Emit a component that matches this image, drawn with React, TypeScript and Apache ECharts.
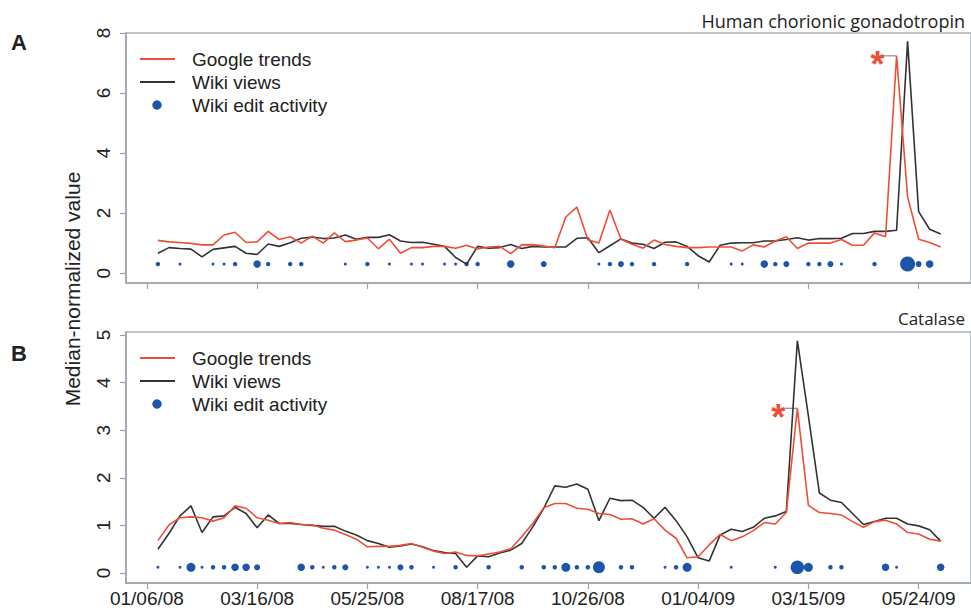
import React, { useEffect, useRef } from 'react';
import * as echarts from 'echarts';

// x axis: weeks since 01/06/08
const tickWeeks = [0, 10, 20, 30, 40, 50, 60, 70];
const tickLabels = ['01/06/08', '03/16/08', '05/25/08', '08/17/08', '10/26/08', '01/04/09', '03/15/09', '05/24/09'];
const weeks = Array.from({ length: 72 }, (_, i) => i + 1);

// Panel A: Human chorionic gonadotropin
const googleA = [
  1.09, 1.04, 1.02, 0.99, 0.94, 0.94, 1.27, 1.36, 1.02, 1.04,
  1.39, 1.12, 1.21, 1.00, 1.23, 1.00, 1.34, 1.05, 1.10, 1.17,
  0.81, 1.13, 0.66, 0.85, 0.85, 0.89, 0.89, 0.83, 0.93, 0.80,
  0.87, 0.89, 0.65, 0.94, 0.95, 0.90, 0.85, 1.87, 2.20, 1.11,
  1.00, 2.10, 1.13, 0.96, 0.83, 1.10, 0.95, 0.89, 0.85, 0.85,
  0.87, 0.87, 0.87, 0.74, 0.94, 0.87, 1.07, 1.21, 0.82, 1.00,
  1.00, 1.00, 1.12, 0.93, 0.93, 1.34, 1.21, 7.24, 2.54, 1.13,
  1.02, 0.87,
];
const wikiA = [
  0.66, 0.85, 0.82, 0.80, 0.54, 0.79, 0.84, 0.89, 0.66, 0.62,
  0.97, 0.89, 1.01, 1.16, 1.20, 1.15, 1.17, 1.27, 1.13, 1.19,
  1.19, 1.28, 1.07, 1.02, 1.03, 0.96, 0.89, 0.52, 0.30, 0.89,
  0.83, 0.85, 0.95, 0.82, 0.89, 0.87, 0.87, 0.87, 1.16, 1.18,
  0.68, 0.91, 1.14, 1.00, 0.96, 0.82, 1.03, 1.04, 0.89, 0.58,
  0.37, 0.93, 1.00, 1.01, 1.01, 1.07, 1.07, 1.12, 1.18, 1.10,
  1.15, 1.15, 1.16, 1.32, 1.32, 1.39, 1.39, 1.43, 7.72, 2.05,
  1.46, 1.30,
];
const editWeeksA = [1, 3, 6, 7, 8, 10, 11, 13, 14, 18, 20, 22, 24, 25, 27, 28, 29, 30, 33, 36, 41, 42, 43, 44, 46, 49, 53, 54, 56, 57, 58, 60, 61, 62, 63, 66, 69, 70, 71];
const editLevelsA = [2, 1, 1, 1, 2, 4, 2, 2, 2, 1, 2, 1, 1, 1, 1, 1, 2, 2, 4, 3, 1, 2, 3, 2, 2, 2, 1, 1, 4, 2, 3, 2, 2, 3, 1, 2, 9, 3, 4];

// Panel B: Catalase
const googleB = [
  0.68, 1.01, 1.16, 1.18, 1.16, 1.09, 1.16, 1.41, 1.36, 1.16,
  1.11, 1.04, 1.06, 1.02, 1.01, 0.94, 0.90, 0.81, 0.71, 0.55,
  0.56, 0.56, 0.58, 0.62, 0.54, 0.46, 0.41, 0.44, 0.37, 0.36,
  0.40, 0.44, 0.51, 0.76, 1.04, 1.37, 1.46, 1.46, 1.36, 1.34,
  1.25, 1.23, 1.13, 1.14, 1.03, 1.14, 0.90, 0.73, 0.32, 0.34,
  0.59, 0.81, 0.68, 0.76, 0.89, 1.06, 1.03, 1.27, 3.46, 1.42,
  1.27, 1.25, 1.22, 1.08, 0.96, 1.08, 1.11, 1.03, 0.85, 0.82,
  0.71, 0.67,
];
const wikiB = [
  0.50, 0.83, 1.20, 1.41, 0.85, 1.18, 1.20, 1.38, 1.25, 0.95,
  1.22, 1.04, 1.04, 1.02, 1.00, 0.98, 0.98, 0.88, 0.80, 0.68,
  0.62, 0.54, 0.57, 0.61, 0.55, 0.47, 0.43, 0.41, 0.12, 0.36,
  0.34, 0.42, 0.48, 0.62, 0.97, 1.36, 1.83, 1.80, 1.87, 1.76,
  1.10, 1.57, 1.52, 1.53, 1.38, 1.15, 1.38, 1.10, 0.76, 0.32,
  0.25, 0.80, 0.92, 0.87, 0.96, 1.15, 1.20, 1.29, 4.88, 3.30,
  1.68, 1.53, 1.48, 1.25, 1.02, 1.08, 1.15, 1.15, 1.03, 0.99,
  0.91, 0.67,
];
const editWeeksB = [1, 3, 4, 5, 6, 7, 8, 9, 10, 14, 15, 16, 17, 18, 20, 21, 22, 23, 24, 26, 28, 31, 34, 36, 37, 38, 39, 40, 41, 43, 44, 47, 48, 49, 53, 57, 59, 60, 62, 63, 67, 68, 72];
const editLevelsB = [1, 1, 5, 1, 2, 2, 4, 4, 3, 4, 2, 1, 2, 3, 1, 1, 1, 3, 2, 1, 2, 2, 2, 2, 2, 5, 2, 2, 7, 2, 2, 1, 2, 5, 1, 1, 8, 5, 2, 2, 4, 1, 4];

const yTicksA = [0, 2, 4, 6, 8];
const yTicksB = [0, 1, 2, 3, 4, 5];
const DOT_Y_A = 0.3;
const DOT_Y_B = 0.12;

const RED = '#ee4e35';
const DARK = '#333333';
const BLUE = '#1d56a8';
const AXIS = '#9aa2ad';
const TEXT = '#222222';
const FONT = '"Liberation Sans", Arial, sans-serif';
const TITLE_FONT = '"Open Sans", "Noto Sans", sans-serif';

export default function App() {
  const ref = useRef<HTMLDivElement>(null);
  useEffect(() => {
    const chart = echarts.init(ref.current!, null, { renderer: 'svg' });
    const xMin = -1.894;
    const xMax = 74.75;
    const pair = (vals: number[]) => vals.map((v, i) => [weeks[i], v]);
    const dots = (w: number[], lv: number[], y: number) => w.map((wk, i) => [wk, y, lv[i]]);
    const mkX = (gi: number, labels: boolean) => ({
      type: 'value', gridIndex: gi, min: xMin, max: xMax,
      axisLine: { show: true, onZero: false, lineStyle: { color: AXIS, width: 1.5 } },
      axisTick: { show: true, customValues: tickWeeks, length: 6, lineStyle: { color: AXIS, width: 1.2 } },
      axisLabel: {
        show: labels, customValues: tickWeeks, fontSize: 19, color: TEXT, margin: 6, fontFamily: FONT,
        formatter: (v: number) => { const k = tickWeeks.indexOf(Math.round(v)); return k >= 0 ? tickLabels[k] : ''; },
      },
      splitLine: { show: false },
    });
    const mkY = (gi: number, min: number, max: number, ticks: number[]) => ({
      type: 'value', gridIndex: gi, min, max,
      axisLine: { show: true, onZero: false, lineStyle: { color: AXIS, width: 1.5 } },
      axisTick: { show: true, customValues: ticks, length: 6, lineStyle: { color: AXIS, width: 1.2 } },
      axisLabel: { show: false },
      splitLine: { show: false },
    });
    const lineS = (name: string, data: number[], gi: number, color: string) => ({
      type: 'line', name, xAxisIndex: gi, yAxisIndex: gi, data: pair(data), symbol: 'none',
      lineStyle: { color, width: 1.6 }, itemStyle: { color },
    });
    const dotS = (w: number[], lv: number[], y: number, gi: number) => ({
      type: 'scatter', name: 'Wiki edit activity', xAxisIndex: gi, yAxisIndex: gi, data: dots(w, lv, y),
      symbolSize: (val: number[]) => 1.5 + 1.5 * val[2], itemStyle: { color: BLUE, opacity: 1 },
    });
    chart.setOption({
      animation: false,
      backgroundColor: '#ffffff',
      grid: [
        { left: 126, top: 33, width: 850, height: 250, show: true, borderColor: '#a9b1bb', borderWidth: 1.5, backgroundColor: 'transparent' },
        { left: 126, top: 332, width: 850, height: 251, show: true, borderColor: '#a9b1bb', borderWidth: 1.5, backgroundColor: 'transparent' },
      ],
      xAxis: [mkX(0, false), mkX(1, true)],
      yAxis: [mkY(0, -0.33, 8, yTicksA), mkY(1, -0.21, 5.063, yTicksB)],
      series: [
        lineS('Wiki views', wikiA, 0, DARK),
        lineS('Google trends', googleA, 0, RED),
        dotS(editWeeksA, editLevelsA, DOT_Y_A, 0),
        lineS('Wiki views', wikiB, 1, DARK),
        lineS('Google trends', googleB, 1, RED),
        dotS(editWeeksB, editLevelsB, DOT_Y_B, 1),
      ],
    });

    const ia = googleA.indexOf(Math.max(...googleA));
    const ib = googleB.indexOf(Math.max(...googleB));
    const pA = chart.convertToPixel({ gridIndex: 0 }, [weeks[ia], googleA[ia]]) as number[];
    const pB = chart.convertToPixel({ gridIndex: 1 }, [weeks[ib], googleB[ib]]) as number[];

    const txt = (text: string, x: number, y: number, size: number, opts: any = {}) => ({
      type: 'text', x, y, silent: true,
      style: { text, fill: TEXT, fontSize: size, fontFamily: FONT, textAlign: 'left', textVerticalAlign: 'middle', verticalAlign: 'middle', ...opts },
    });
    const rotTxt = (text: string, x: number, y: number, size: number) => ({
      type: 'text', x, y, rotation: Math.PI / 2, silent: true,
      style: { text, fill: TEXT, fontSize: size, fontFamily: FONT, textAlign: 'center', textVerticalAlign: 'middle', verticalAlign: 'middle' },
    });
    const yLabels = (gi: number, ticks: number[]) => ticks.map((t) => {
      const p = chart.convertToPixel({ gridIndex: gi }, [0, t]) as number[];
      return rotTxt(String(t), 103, p[1], 19);
    });
    const legend = (y0: number) => [
      { type: 'line', shape: { x1: 140, y1: y0, x2: 175, y2: y0 }, style: { stroke: RED, lineWidth: 1.8 } },
      { type: 'line', shape: { x1: 140, y1: y0 + 23, x2: 175, y2: y0 + 23 }, style: { stroke: DARK, lineWidth: 1.8 } },
      { type: 'circle', shape: { cx: 157, cy: y0 + 46, r: 4.7 }, style: { fill: BLUE } },
      txt('Google trends', 192, y0, 19),
      txt('Wiki views', 192, y0 + 23, 19),
      txt('Wiki edit activity', 192, y0 + 46, 19),
    ];
    const star = (p: number[]) => [
      { type: 'line', shape: { x1: p[0] - 17, y1: p[1], x2: p[0], y2: p[1] }, style: { stroke: '#8c8c8c', lineWidth: 1.2 } },
      txt('*', p[0] - 19, p[1] + 9, 36, { fill: RED, textAlign: 'center', fontWeight: 'bold' }),
    ];
    chart.setOption({
      graphic: [
        txt('A', 11, 42, 22, { fontWeight: 'bold' }),
        txt('B', 11, 353, 22, { fontWeight: 'bold' }),
        txt('Human chorionic gonadotropin', 965, 21, 18, { textAlign: 'right', fontFamily: TITLE_FONT }),
        txt('Catalase', 965, 318, 17, { textAlign: 'right', fontFamily: TITLE_FONT }),
        rotTxt('Median-normalized value', 72, 289, 21),
        ...yLabels(0, yTicksA),
        ...yLabels(1, yTicksB),
        ...legend(59),
        ...legend(358),
        ...star(pA),
        ...star(pB),
      ],
    });
    return () => chart.dispose();
  }, []);
  return <div ref={ref} style={{ position: 'fixed', left: 0, top: 0, width: 971, height: 611, background: '#fff' }} />;
}
